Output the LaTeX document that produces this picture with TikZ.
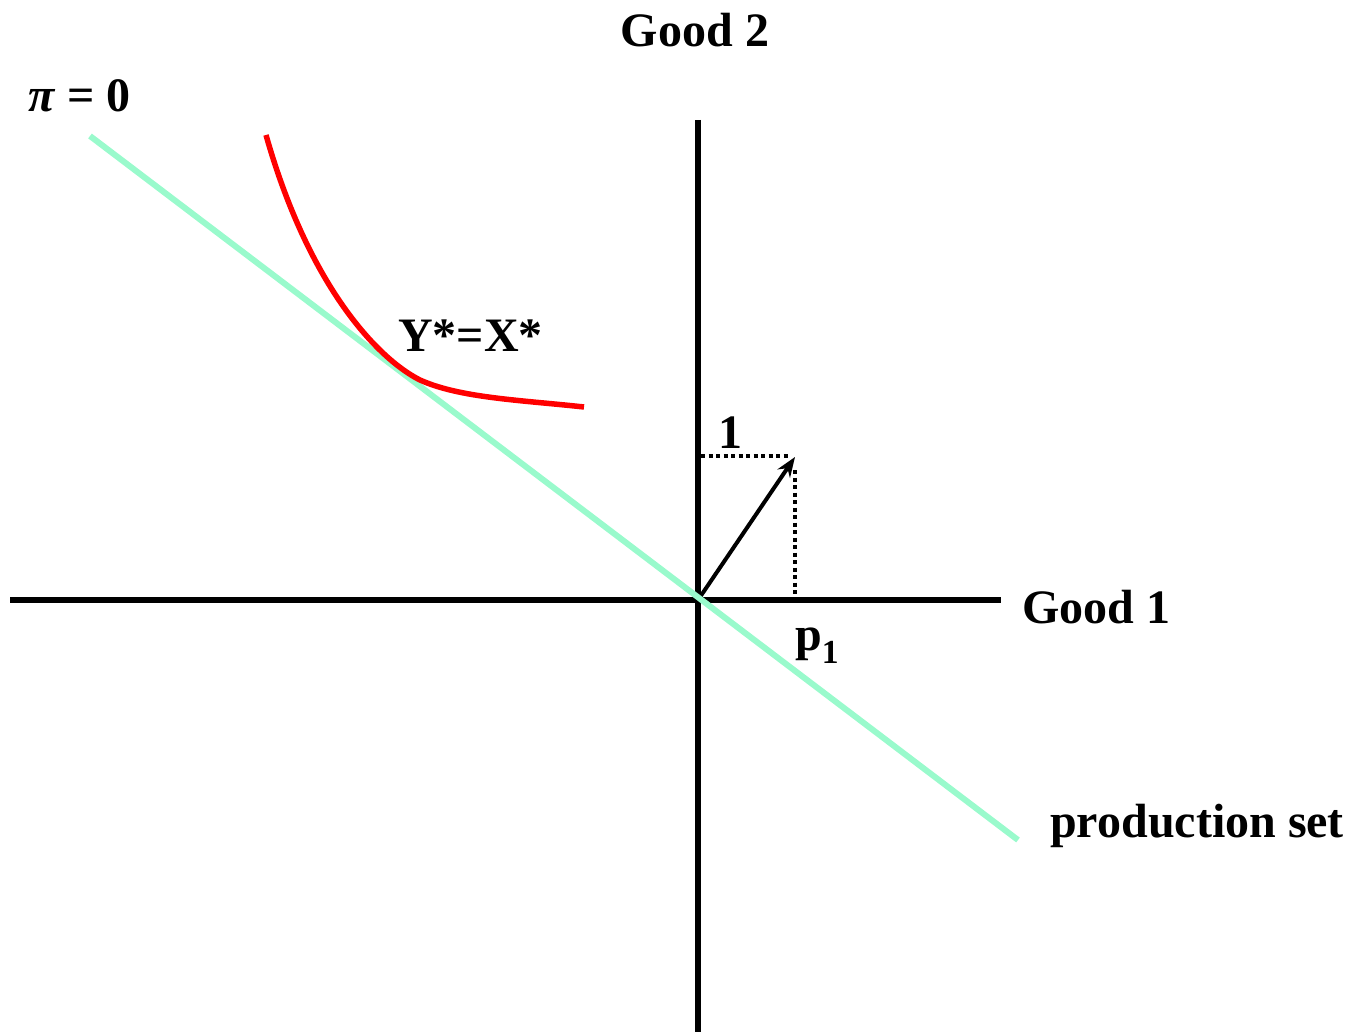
\documentclass[tikz,border=0pt]{standalone}
\usepackage{fontspec}
\setmainfont{Liberation Serif}
\usetikzlibrary{arrows.meta}
\definecolor{prodgreen}{RGB}{153,250,204}
\definecolor{curvered}{RGB}{255,0,0}
\begin{document}
\begin{tikzpicture}[x=1pt,y=-1pt,
  lbl/.style={anchor=base west,inner sep=0pt,font=\fontsize{48}{52}\selectfont\bfseries},
  axisline/.style={line width=6pt,black},
  dotline/.style={line width=4pt,dash pattern=on 4pt off 3.5pt}]
\useasboundingbox (0,0) rectangle (1352,1032);
% coordinates
\coordinate (O) at (698,600);
\coordinate (xl) at (10,600);
\coordinate (xr) at (1001,600);
\coordinate (yt) at (698,120);
\coordinate (yb) at (698,1032);
\coordinate (gs) at (90,136);
\coordinate (ge) at (1018,840);
\coordinate (tip) at (795,457);
\coordinate (h1) at (701,456);
\coordinate (h2) at (790,456);
\coordinate (v1) at (795,470);
\coordinate (v2) at (795,597);
\coordinate (c0) at (266,135);
\coordinate (c1) at (420,380);
\coordinate (c2) at (584,407);
% axes
\draw[axisline] (xl) -- (xr);
\draw[axisline] (yt) -- (yb);
% dotted
\draw[dotline] (h1) -- (h2);
\draw[dotline] (v1) -- (v2);
% price vector
\draw[line width=4pt,-{Stealth[length=20pt,width=15pt]}] (O) -- (tip);
% production set line
\draw[prodgreen,line width=6pt] (gs) -- (ge);
% red curve
\draw[curvered,line width=5.5pt] (c0) .. controls (310,290) and (380,360) .. (c1)
  .. controls (460,398) and (520,400) .. (c2);
% labels
\node[lbl,anchor=base] (g2) at (695,47) {Good 2};
\node[lbl] (pi) at (28,112) {\textit{π} = 0};
\node[lbl] (yx) at (398,352) {Y*=X*};
\node[lbl] (one) at (718,448) {1};
\node[lbl] (g1) at (1022,623) {Good 1};
\node[lbl] (p1) at (795,650) {p\textsubscript{1}};
\node[lbl] (ps) at (1050,837) {production set};
\end{tikzpicture}
\end{document}
